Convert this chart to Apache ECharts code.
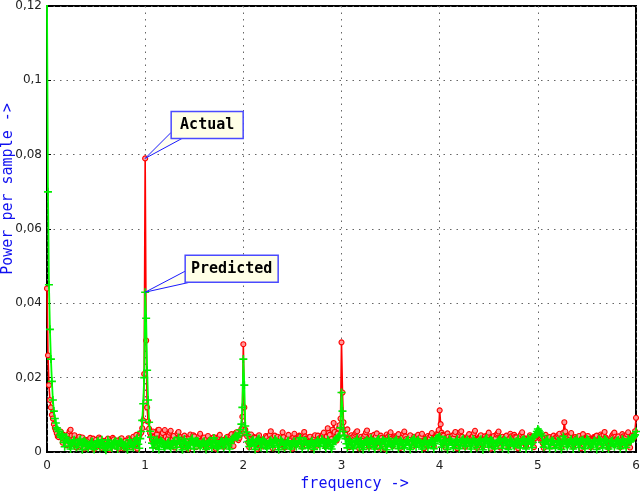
<!DOCTYPE html>
<html>
<head>
<meta charset="utf-8">
<script src="https://cdn.jsdelivr.net/npm/echarts@6/dist/echarts.min.js"></script>
<style>html,body{margin:0;padding:0;background:#fff}#c{width:640px;height:491px}</style>
</head>
<body>
<div id="c"></div>
<script>
// Frequency grid: starts at 0, step 0.01
const freqStart = 0, freqStep = 0.01;
// Power per sample, in units of 1e-3 (one row = 0.2 frequency units)
const actualMilli = [
44,26,18,14,12,10,9,7.5,6.5,5.8,5,4.2,4,5.2,5.5,3.8,2.5,4.6,4.2,3.1,
1.8,3.9,4.8,5.6,6,4.4,2.2,3.5,4.5,2.7,1.2,3.0,3.6,4.1,2.5,1.6,3.9,2.8,0.9,3.3,
3.1,2.2,1.4,3.4,3.8,2.0,2.7,3.6,0.8,2.5,3.3,1.7,2.6,3.9,3.5,1.2,1.1,2.8,3.0,2.1,
2.4,3.2,3.6,1.3,0.7,2.6,2.9,3.8,3.4,1.9,1.5,2.7,3.1,0.9,2.6,3.5,3.7,2.2,1.0,2.8,
3.0,1.6,2.5,3.7,3.4,2.0,1.3,3.3,4.1,2.6,3.2,4.6,0.9,3.8,4.4,5.0,5.2,6.4,8.5,21,
79,30,12,8.2,6.3,5.1,4.2,3.3,5.5,4.0,1.6,3.8,4.8,5.9,6.0,3.1,2.9,4.6,5.1,3.4,
5.9,4.1,1.7,3.5,4.6,5.2,5.7,2.4,3.4,4.3,1.2,2.7,3.3,5.0,5.4,3.6,4.0,2.2,1.5,3.8,
4.4,3.6,2.9,1.4,0.8,3.9,4.7,2.6,3.1,4.5,4.2,2.3,1.3,3.4,3.6,4.3,4.9,3.0,2.0,3.7,
3.9,2.4,1.1,3.5,4.3,3.0,3.3,1.8,2.6,3.8,4.0,2.2,0.9,3.2,2.9,4.1,4.6,2.7,3.2,1.9,
1.4,3.3,2.8,3.9,4.1,2.5,3.4,4.4,4.8,3.0,1.6,4.2,5.0,5.3,4.4,3.2,3.8,4.7,6.2,9.5,
29,12,6.0,4.8,4.2,2.6,1.3,3.7,4.7,3.5,2.9,4.0,3.8,1.9,0.8,3.4,4.5,3.3,3.1,2.2,
1.5,3.2,2.7,4.3,4.0,2.4,3.2,4.6,5.6,3.7,1.0,2.9,4.4,3.1,3.6,4.1,2.8,1.8,3.9,3.0,
5.3,4.0,1.2,2.8,2.9,3.7,4.6,2.5,3.1,1.5,0.9,3.9,4.9,3.6,2.8,3.3,3.5,4.4,4.2,2.6,
1.4,3.8,5.4,4.2,3.6,2.3,2.7,3.9,4.1,2.9,1.1,3.4,3.9,4.5,2.9,1.7,4.4,3.6,3.2,4.0,
4.0,4.7,5.2,3.0,1.5,4.2,6.4,5.1,4.6,3.3,3.5,6.0,7.8,5.4,4.0,3.1,5.0,6.3,7.2,9.0,
29.5,16,8.0,5.7,4.8,5.9,6.1,3.5,1.3,3.6,4.5,3.9,3.2,4.4,4.9,5.3,5.6,2.6,1.0,3.5,
4.1,3.4,3.0,4.2,4.6,5.3,5.8,3.2,1.4,3.8,4.3,3.5,2.9,4.6,3.8,4.2,5.0,2.4,1.2,3.7,
4.4,3.8,3.1,1.8,0.9,3.6,4.7,4.0,3.4,4.5,5.3,3.6,1.6,3.3,4.2,3.9,3.6,4.4,4.8,2.5,
1.1,3.4,4.0,4.9,5.5,4.2,3.5,3.0,2.9,3.8,4.5,2.4,1.3,3.5,4.1,3.4,3.0,4.2,4.6,3.7,
3.3,4.2,4.9,2.6,1.0,3.2,3.1,4.0,4.3,3.8,3.6,4.5,5.1,2.8,1.5,3.6,4.0,4.8,4.6,5.9,
11.2,7.5,5.2,4.6,4.4,2.3,1.2,3.9,5.0,4.1,3.2,3.6,4.1,4.4,3.7,4.8,5.4,2.4,1.0,3.5,
4.6,5.2,5.6,4.1,3.3,2.0,1.4,3.2,3.6,4.3,4.8,3.7,3.1,4.0,4.3,5.1,5.7,2.6,1.1,3.4,
3.9,4.2,4.5,2.7,1.5,3.6,4.2,3.7,3.5,4.6,5.2,2.4,0.9,3.5,4.0,4.3,3.2,3.6,4.7,5.0,
5.5,3.1,1.2,3.8,4.1,3.4,3.0,3.9,4.4,2.5,1.4,3.6,4.9,4.2,3.3,4.0,4.6,4.1,3.9,2.9,
1.0,3.5,4.3,4.8,5.3,4.0,3.5,2.1,1.6,2.9,3.2,4.0,4.5,4.1,3.8,2.6,1.3,3.7,4.4,4.8,
5.0,4.4,3.6,3.9,4.2,2.4,1.1,3.9,4.6,3.8,3.4,3.7,4.0,2.6,1.5,3.8,4.4,3.6,3.2,4.1,
4.1,4.6,4.9,2.7,1.2,3.9,5.2,8.0,5.5,3.6,4.2,3.8,3.3,4.4,5.1,2.8,1.4,3.5,4.0,3.6,
3.2,3.9,4.3,2.3,1.0,3.7,4.8,3.6,3.0,3.8,4.1,4.3,3.5,2.2,1.3,3.4,3.3,4.0,3.9,4.2,
4.4,2.7,1.6,3.8,4.7,4.3,3.6,4.6,5.4,3.9,3.4,2.4,1.1,2.8,3.1,4.0,4.5,4.9,5.2,4.1,
3.5,3.8,4.2,2.4,1.3,3.2,4.8,4.2,3.7,3.9,4.1,4.7,5.3,2.6,1.2,3.6,4.4,4.0,3.9,5.6,
9.2];
const predictedMilli = [
121,70,45,33,25,19,14,11,9,7.8,6.5,6.0,5.5,4.6,4.0,4.4,4.8,2.6,1.4,3.3,
3.9,3.2,2.8,1.6,0.8,2.0,2.4,3.1,3.3,2.1,1.2,1.9,2.2,3.0,3.5,1.8,0.6,2.4,3.1,2.6,
2.3,1.5,1.0,1.8,2.0,2.6,2.8,1.4,0.7,1.6,2.1,2.7,3.0,2.2,1.3,2.5,3.3,2.4,1.9,1.0,
0.5,1.9,3.2,2.5,2.2,1.4,1.1,2.0,2.4,2.8,2.9,1.6,0.8,2.2,3.1,2.7,2.6,1.9,1.4,1.8,
2.1,1.2,0.6,2.3,3.3,2.6,2.3,1.5,1.2,2.2,2.7,3.4,3.8,2.1,1.0,3.6,5.5,8.5,13,20,
43,36,22,14,8.0,5.6,4.0,2.4,1.1,2.2,2.6,3.1,3.4,1.6,0.7,2.3,3.0,2.8,2.5,1.5,
1.3,1.7,2.0,2.5,2.8,1.6,0.9,1.9,2.3,2.9,3.1,2.0,1.2,2.8,3.9,3.0,2.4,1.3,0.6,2.2,
3.5,2.7,2.1,1.4,1.0,2.0,2.6,3.3,3.7,1.9,0.8,2.4,3.0,2.9,2.8,1.9,1.4,1.8,2.3,2.6,
2.9,1.6,0.7,1.9,2.4,2.8,3.1,1.8,1.1,2.6,3.8,3.0,2.5,1.5,0.9,1.7,2.2,2.7,3.0,2.0,
1.2,2.5,3.5,3.1,2.8,1.6,0.8,2.3,3.2,3.4,3.6,4.1,4.5,4.2,3.9,4.4,5.0,6.0,7.5,12,
25,18,7.0,5.4,4.6,2.8,1.5,2.2,2.8,3.1,3.3,1.8,0.7,2.1,3.0,3.4,3.6,2.4,1.2,2.3,
3.2,2.9,2.7,1.6,0.9,1.8,2.3,2.8,3.1,2.2,1.3,2.5,3.4,3.1,2.9,1.7,0.6,2.1,3.3,2.9,
2.7,1.8,1.1,1.9,2.4,2.8,3.0,1.7,0.8,1.6,2.1,2.6,2.9,2.0,1.4,2.2,2.6,3.1,3.8,2.2,
0.9,2.2,3.1,2.9,2.8,1.9,1.2,1.8,2.2,2.7,3.0,1.6,0.7,1.8,2.4,2.9,3.2,2.3,1.5,2.6,
3.5,3.0,2.6,1.6,1.0,2.3,3.3,2.8,2.5,1.4,0.8,2.0,2.9,3.0,3.2,3.5,3.9,4.2,4.5,6.5,
16,11,5.5,4.4,3.6,2.2,1.1,2.3,3.3,2.9,2.5,1.6,0.9,1.9,2.7,3.1,3.6,2.4,1.3,2.2,
3.0,1.8,0.7,1.8,2.6,2.9,3.2,2.0,1.2,2.5,3.7,3.0,2.4,1.5,0.8,2.0,2.9,3.3,3.5,2.1,
1.0,2.2,3.3,3.0,2.7,1.5,0.6,2.1,3.6,2.9,2.3,1.7,1.4,2.0,2.8,3.0,3.4,2.2,0.9,2.0,
3.1,2.8,2.5,1.7,1.1,2.0,2.9,3.1,3.3,1.9,0.7,1.9,3.0,3.3,3.7,2.4,1.3,2.2,3.2,2.7,
2.6,1.6,0.8,2.0,2.8,3.0,3.1,2.1,1.2,1.9,2.5,2.9,3.2,1.8,0.9,2.2,3.5,3.7,3.8,4.0,
4.2,2.7,1.3,2.1,3.0,3.2,3.3,1.9,0.7,2.2,3.5,3.1,2.8,1.8,1.1,1.9,2.5,3.0,3.4,2.0,
0.9,1.8,2.6,3.2,3.6,2.4,1.4,2.3,3.3,2.8,2.4,1.6,0.8,2.2,3.5,3.1,2.7,1.9,1.2,2.1,
2.8,3.1,3.4,1.9,0.6,1.9,3.0,3.4,3.7,2.4,1.3,2.3,3.2,3.0,2.9,1.8,0.9,1.7,2.4,2.2,
3.1,3.3,3.6,2.2,1.0,2.2,3.3,3.0,2.8,1.7,0.7,2.1,3.4,2.9,2.5,1.9,1.5,2.3,2.9,2.4,
3.5,2.2,1.1,2.2,3.1,3.3,3.4,2.0,0.8,2.3,3.6,3.3,3.0,2.1,1.2,2.6,4.0,4.4,4.8,5.5,
6.2,5.8,5.4,4.9,4.4,2.6,1.3,2.1,2.9,3.1,3.4,2.0,0.9,2.0,3.1,3.0,2.8,1.8,1.1,1.9,
3.0,2.9,2.7,1.6,0.7,2.4,4.2,3.5,2.9,2.0,1.4,2.0,2.5,3.0,3.4,2.0,0.8,2.0,3.1,2.7,
3.6,2.4,1.2,2.1,3.0,3.1,3.3,2.0,0.9,2.3,3.5,3.2,2.9,2.0,1.3,1.9,2.4,2.9,3.1,2.2,
0.7,2.1,3.4,3.2,3.0,1.9,1.1,2.4,3.5,3.2,2.9,1.7,0.8,1.8,2.7,2.9,3.1,2.1,1.4,2.0,
2.8,3.0,3.2,1.9,0.9,2.2,3.4,3.0,2.5,1.8,1.2,2.4,3.5,3.1,2.7,3.0,3.6,3.9,4.2,4.6,
5.5];
const xTicks = [0,1,2,3,4,5,6];
const yTicks = [0,0.02,0.04,0.06,0.08,0.1,0.12];
const annotations = [{label:'Actual', series:'actual', at:1}, {label:'Predicted', series:'predicted', at:1}];

const freqCount = Math.min(actualMilli.length, predictedMilli.length);
const freqs = [];
for (let i = 0; i < freqCount; i++) freqs.push(+(freqStart + i*freqStep).toFixed(4));
const actual = actualMilli.map(v => v/1000);
const predicted = predictedMilli.map(v => v/1000);
const actualData = freqs.map((f,i) => [f, actual[i]]);
const predictedData = freqs.map((f,i) => [f, predicted[i]]);

const chart = echarts.init(document.getElementById('c'), null, {renderer:'canvas'});
const mono = "'DejaVu Sans Mono', monospace";
const plusPath = 'path://M2,0H3V2H5V3H3V5H2V3H0V2H2Z';
chart.setOption({
  animation:false,
  backgroundColor:'#fff',
  grid:{left:47, right:4, top:6, bottom:39, containLabel:false, outerBoundsMode:'none',
    show:true, borderColor:'#000', borderWidth:2, backgroundColor:'transparent'},
  xAxis:{type:'value', min:xTicks[0], max:xTicks[xTicks.length-1], interval:1,
    name:'frequency ->', nameLocation:'middle', nameGap:25, nameMoveOverlap:false,
    nameTextStyle:{color:'#1010f0', fontFamily:mono, fontSize:15, padding:[0,0,0,26]},
    axisLine:{show:false},
    axisTick:{show:true, inside:true, length:4, lineStyle:{color:'#000'}},
    axisLabel:{color:'#222', fontSize:12, fontFamily:'DejaVu Sans', margin:8},
    splitLine:{show:true, lineStyle:{color:'#666', type:[1.5,5], width:1}}},
  yAxis:{type:'value', min:yTicks[0], max:yTicks[yTicks.length-1], interval:0.02,
    name:'Power per sample ->', nameLocation:'middle', nameGap:31, nameMoveOverlap:false,
    nameTextStyle:{color:'#1010f0', fontFamily:mono, fontSize:15, padding:[0,0,0,80]},
    axisLine:{show:false},
    axisTick:{show:true, inside:true, length:4, lineStyle:{color:'#000'}},
    axisLabel:{color:'#222', fontSize:12, fontFamily:'DejaVu Sans', margin:5,
      formatter:v => String(+v.toFixed(2)).replace('.', ',')},
    splitLine:{show:true, lineStyle:{color:'#666', type:[1.5,5], width:1}}},
  series:[
    {name:'actual', type:'line', data:actualData, showAllSymbol:true, symbol:'circle', symbolSize:5,
      lineStyle:{color:'#ff0000', width:1.6}, itemStyle:{color:'#ff9a9a', borderColor:'#ff0000', borderWidth:1.1}, z:2},
    {name:'predicted', type:'line', data:predictedData, showAllSymbol:true, symbol:plusPath, symbolSize:8,
      lineStyle:{color:'#00ff00', width:1.8}, itemStyle:{color:'#00ee00'}, z:3}
  ]
});

// callout annotations anchored at data points
const seriesMap = {actual:actual, predicted:predicted};
const boxes = [
  {dx:26, dy:-47, w:72, h:27, wedge:[[26,-26],[37,-20]]},
  {dx:40, dy:-37, w:93, h:27, wedge:[[40,-21],[45,-10]]}
];
const gfx = [];
annotations.forEach((a, k) => {
  const idx = freqs.findIndex(f => Math.abs(f - a.at) < 1e-9);
  const p = chart.convertToPixel({gridIndex:0}, [freqs[idx], seriesMap[a.series][idx]]);
  const b = boxes[k];
  gfx.push({type:'polygon', shape:{points:[[p[0],p[1]],[p[0]+b.wedge[0][0],p[1]+b.wedge[0][1]],[p[0]+b.wedge[1][0],p[1]+b.wedge[1][1]]]},
    style:{fill:'#fffff0', stroke:'#1a1aff', lineWidth:1}, z:100});
  gfx.push({type:'rect', shape:{x:p[0]+b.dx, y:p[1]+b.dy, width:b.w, height:b.h},
    style:{fill:'#ffffe6', stroke:'#4a4aff', lineWidth:1.5}, z:101});
  gfx.push({type:'text', x:p[0]+b.dx+b.w/2, y:p[1]+b.dy+b.h/2,
    style:{text:a.label, fill:'#000', font:"bold 15px 'DejaVu Sans Mono'", align:'center', verticalAlign:'middle'}, z:102});
});
chart.setOption({graphic:gfx});
</script>
</body>
</html>
